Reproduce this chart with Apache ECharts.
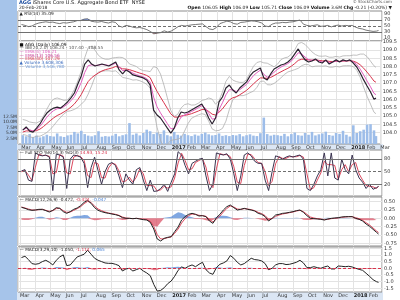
<!DOCTYPE html>
<html><head><meta charset="utf-8">
<script src="https://cdn.jsdelivr.net/npm/echarts@6/dist/echarts.min.js"></script>
<style>html,body{margin:0;padding:0;background:#fff}#c{width:400px;height:300px}</style>
</head><body><div id="c"></div>
<script>
// weekly samples (Fridays from 2016-03-04) plus the final session 2018-02-20
const close = [
104.16,104.35,104.10,104.04, 104.28,104.53,104.89,105.19,105.37, 105.49,105.55,105.49,105.67, 105.86,106.10,106.40,106.94,
107.43,108.15,108.40,108.15,108.03, 108.09,108.15,108.09,108.03, 108.15,108.27,107.79,107.55,107.79, 107.67,107.49,107.43,107.37,
107.31,107.19,106.88,105.37, 105.07,104.89,104.59,104.28,103.98,
104.28,104.89,105.25,105.19, 105.25,105.37,105.49,105.61, 105.74,105.37,104.89,104.53,104.89, 105.86,106.16,106.70,106.88,
106.58,106.40,106.70,106.88, 107.07,107.43,107.67,107.79,107.91, 107.31,107.19,107.55,107.85, 107.97,108.09,108.15,108.27,
108.46,108.76,109.06,108.70,108.40, 108.27,108.33,108.46,108.27, 108.21,108.40,108.15,108.27, 108.40,108.27,108.40,108.33,108.40,
108.21,107.97,107.61,107.19, 106.82,106.46,106.02, 106.09];
const ema13 = [
104.18,104.27,104.18,104.10, 104.20,104.38,104.65,104.94,105.17, 105.34,105.45,105.47,105.58, 105.73,105.93,106.18,106.59,
107.04,107.64,108.05,108.10,108.06, 108.08,108.12,108.10,108.06, 108.11,108.20,107.98,107.75,107.77, 107.72,107.60,107.51,107.44,
107.37,107.27,107.06,106.15, 105.57,105.20,104.87,104.55,104.24,
104.26,104.60,104.95,105.08, 105.17,105.28,105.39,105.51, 105.64,105.49,105.17,104.82,104.86, 105.40,105.81,106.29,106.60,
106.59,106.49,106.60,106.75, 106.92,107.19,107.45,107.63,107.78, 107.53,107.35,107.45,107.66, 107.83,107.97,108.07,108.18,
108.33,108.56,108.83,108.76,108.57, 108.41,108.37,108.42,108.34, 108.27,108.34,108.24,108.26, 108.33,108.30,108.35,108.34,108.37,
108.29,108.12,107.84,107.49, 107.12,106.77,106.38, 106.30];
const ema40 = [
104.04,104.11,104.11,104.09, 104.13,104.22,104.37,104.55,104.73, 104.90,105.04,105.14,105.26, 105.39,105.55,105.74,106.00,
106.31,106.72,107.09,107.32,107.48, 107.61,107.73,107.81,107.86, 107.92,108.00,107.95,107.86,107.85, 107.81,107.74,107.67,107.60,
107.54,107.46,107.33,106.90, 106.50,106.15,105.81,105.47,105.14,
104.95,104.94,105.01,105.05, 105.09,105.15,105.23,105.31, 105.40,105.40,105.29,105.12,105.07, 105.24,105.44,105.72,105.98,
106.11,106.17,106.29,106.42, 106.56,106.75,106.95,107.14,107.31, 107.31,107.28,107.34,107.45, 107.57,107.68,107.79,107.89,
108.02,108.18,108.37,108.44,108.44, 108.40,108.38,108.40,108.37, 108.34,108.35,108.31,108.30, 108.32,108.31,108.33,108.33,108.35,
108.32,108.24,108.10,107.90, 107.66,107.40,107.12, 107.05];
const bbUpper = [
104.80,104.75,104.65,104.61, 104.59,104.69,104.99,105.42,105.80, 106.04,106.10,106.03,105.95, 105.99,106.23,106.61,107.13,
107.72,108.53,109.13,109.23,108.98, 108.67,108.51,108.44,108.44, 108.51,108.54,108.56,108.54,108.40, 108.15,108.08,108.00,107.84,
107.75,107.73,107.69,107.99, 107.93,107.55,106.88,106.11,105.34,
104.98,105.11,105.50,105.70, 105.75,105.67,105.68,105.78, 105.95,106.00,106.10,106.03,105.72, 105.94,106.46,107.10,107.40,
107.18,107.09,107.04,107.04, 107.21,107.62,108.01,108.24,108.30, 108.22,108.20,108.09,107.98, 108.14,108.42,108.52,108.57,
108.74,109.01,109.39,109.45,109.33, 109.11,108.88,108.72,108.63, 108.62,108.64,108.56,108.56, 108.61,108.57,108.64,108.65,108.65,
108.69,108.68,108.75,108.75, 108.60,108.32,108.04, 107.95];
const bbLower = [
103.90,103.85,103.75,103.71, 103.79,103.79,103.89,104.02,104.20, 104.44,104.70,104.93,105.15, 105.29,105.33,105.41,105.53,
105.72,105.93,106.33,106.83,107.38, 107.67,107.71,107.74,107.74, 107.71,107.74,107.56,107.34,107.30, 107.25,107.18,107.20,107.14,
107.05,106.93,106.69,105.39, 104.33,103.55,103.08,103.31,103.54,
103.58,103.61,103.70,104.10, 104.55,104.87,104.98,105.08, 105.15,105.10,104.70,104.23,104.12, 104.14,104.26,104.70,105.40,
105.98,106.19,106.24,106.24, 106.31,106.42,106.51,106.74,107.10, 107.12,106.90,106.89,106.98, 107.14,107.32,107.52,107.67,
107.74,107.81,107.89,108.05,108.13, 108.11,107.98,108.02,108.03, 108.02,108.04,107.96,107.96, 108.01,107.97,108.04,108.05,108.05,
107.99,107.78,107.35,106.75, 106.20,105.72,105.24, 105.15];
const volume = [
4.0,3.5,4.5,3.2, 3.8,3.0,3.5,4.2,3.6, 3.4,4.8,3.5,3.2, 3.9,4.2,5.5,4.8, 6.0,4.5,3.8,3.5,4.0, 5.8,3.3,3.6,3.4,
3.8,4.6,3.5,4.0,4.4, 9.5,4.2,4.8,3.9, 5.0,6.5,5.8,4.5, 5.2,4.6,6.2,4.0,3.5,
5.5,4.2,3.8,4.6, 4.0,3.6,4.3,3.8, 4.6,5.2,4.4,3.9,4.1, 4.8,3.7,4.0,3.6, 4.1,3.9,4.5,3.5, 4.0,4.4,3.8,3.6,4.9,
12.0,4.5,3.8,4.2, 4.0,3.7,4.6,3.5, 4.5,5.2,4.0,3.8,5.0, 4.2,5.5,3.9,4.4, 4.8,5.6,4.1,3.8, 5.0,4.6,6.0,4.2,3.4,
8.5,5.0,5.8,6.5, 8.8,9.0,6.2, 3.6];
const rsi = [
55,52,48,50, 56,60,62,64,62, 63,60,58,61, 60,62,64,68, 68,73,74,66,64, 63,65,62,60, 64,62,50,46,52, 50,46,44,45,
42,38,32,24, 26,28,34,30,33,
40,48,52,50, 52,54,55,56, 57,48,40,38,45, 58,62,66,64, 58,56,62,63, 65,67,66,64,60, 50,48,56,60, 60,62,61,63,
64,67,70,56,52, 50,52,54,49, 50,52,47,51, 53,50,52,51,52, 46,42,40,36, 34,32,33, 35.09];
const stoK = [
52,55,30,27, 95,90,88,90,85, 5,92,90,85, 10,80,90,88, 85,70,12,60,85, 53,20,50,68, 72,65,40,12,45, 30,20,55,60,
30,5,30,3, 4,10,20,3,25,
45,98,90,65, 45,70,75,80, 82,40,5,20,95, 92,90,93,80, 45,5,40,90, 95,88,75,70,70, 30,5,50,88, 85,80,85,88,
85,88,90,80,10, 5,20,40,55, 95,40,95,35, 30,80,55,45,90, 55,35,25,10, 20,8,12, 14.93];
const stoD = [
50,53,42,29, 61,92,89,89,87, 45,48,91,87, 47,45,85,89, 86,77,41,36,72, 69,36,35,59, 70,68,52,26,28, 37,25,37,57,
45,17,17,16, 4,7,15,11,14,
35,71,94,77, 55,57,72,77, 81,61,22,12,57, 93,91,91,86, 62,25,22,65, 92,91,81,72,70, 50,17,27,69, 86,82,82,86,
86,86,89,85,45, 7,12,30,47, 75,67,67,65, 32,55,67,50,67, 72,45,30,17, 15,14,10, 15.24];
const macd = [
0.33,0.30,0.26,0.24, 0.25,0.27,0.27,0.23,0.19, 0.24,0.32,0.30,0.20, 0.15,0.20,0.27,0.31, 0.38,0.48,0.54,0.45,0.32,
0.24,0.20,0.17,0.15, 0.13,0.11,0.08,0.02,0.00, 0.00,-0.01,0.00,-0.02, -0.04,-0.05,-0.12,-0.32, -0.62,-0.68,-0.60,-0.57,-0.55,
-0.40,-0.26,-0.05,0.05, 0.12,0.15,0.12,0.07, 0.08,0.05,-0.08,-0.15,0.02, 0.12,0.25,0.35,0.40, 0.32,0.25,0.27,0.30,
0.27,0.25,0.22,0.15,0.12, 0.05,-0.08,0.00,0.10, 0.12,0.15,0.16,0.18, 0.20,0.23,0.25,0.18,0.08, 0.00,-0.01,-0.02,-0.03,
-0.05,-0.02,0.00,0.01, 0.02,0.04,0.05,0.05,0.05, 0.00,-0.03,-0.08,-0.17, -0.24,-0.33,-0.42, -0.472];
const macdSignal = [
0.34,0.31,0.28,0.25, 0.25,0.26,0.27,0.24,0.21, 0.23,0.29,0.30,0.23, 0.18,0.19,0.24,0.29, 0.35,0.44,0.51,0.47,0.37,
0.28,0.23,0.19,0.16, 0.14,0.12,0.09,0.04,0.01, 0.00,-0.01,0.00,-0.01, -0.03,-0.04,-0.09,-0.24, -0.49,-0.62,-0.61,-0.58,-0.56,
-0.45,-0.32,-0.14,-0.01, 0.08,0.13,0.12,0.09, 0.08,0.06,-0.03,-0.11,-0.02, 0.07,0.19,0.30,0.37, 0.34,0.28,0.27,0.29,
0.28,0.26,0.23,0.18,0.14, 0.08,-0.03,-0.01,0.06, 0.10,0.13,0.15,0.17, 0.19,0.22,0.24,0.20,0.12, 0.04,0.01,-0.01,-0.02,
-0.04,-0.03,-0.01,0.00, 0.01,0.03,0.04,0.05,0.05, 0.02,-0.01,-0.06,-0.13, -0.20,-0.29,-0.38, -0.424];
const macdHist = [
-0.04,-0.05,-0.05,-0.03, 0.02,0.05,0.05,0.01,-0.04, -0.03,0.03,0.02,-0.05, -0.05,0.02,0.06,0.08, 0.08,0.10,0.09,-0.03,-0.06,
-0.05,-0.03,-0.02,-0.02, -0.01,0.00,-0.03,-0.05,-0.04, -0.01,0.00,0.01,0.00, -0.02,-0.04,-0.12,-0.22, -0.25,-0.12,0.02,0.03,0.05,
0.12,0.18,0.16,0.10, 0.06,0.03,-0.02,-0.02, -0.03,-0.06,-0.08,-0.05,0.04, 0.08,0.08,0.07,0.03, -0.04,-0.05,-0.02,0.02,
0.02,0.01,0.00,-0.02,-0.04, -0.07,-0.06,0.01,0.02, 0.01,0.01,0.01,0.01, 0.01,0.02,0.01,-0.04,-0.05, -0.05,-0.03,-0.02,0.00,
0.01,0.02,0.01,0.02, 0.02,0.01,0.02,0.01,0.00, -0.03,-0.04,-0.05,-0.06, -0.06,-0.06,-0.05, -0.047];
const osc2 = [
0.80,0.90,0.65,0.35, 0.30,0.35,0.50,0.60,0.45, 0.25,0.60,0.85,1.00, 0.20,0.25,0.55,0.85, 0.95,1.05,1.35,1.05,0.75,
0.60,0.50,0.40,0.37, 0.37,0.30,0.20,-0.20,-0.05, 0.00,-0.20,-0.10,0.00, -0.20,-0.35,-0.55,-1.20, -1.70,-1.65,-1.45,-1.15,-0.95,
-0.60,-0.15,0.10,0.00, 0.15,0.25,0.12,0.30, 0.45,-0.10,-0.35,-0.45,0.05, 0.30,0.40,0.55,0.95, 0.75,0.45,0.25,0.35,
0.55,0.75,0.65,0.62,0.55, 0.35,-0.10,0.00,0.25, 0.35,0.35,0.28,0.30, 0.37,0.45,0.60,0.40,0.05, 0.05,0.12,0.05,0.00,
0.10,0.17,-0.05,-0.05, 0.17,0.15,0.12,0.15,0.10, 0.00,-0.08,-0.15,-0.37, -0.60,-0.85,-1.00, -1.05];
const osc2Hist = [
-0.05,0.05,-0.10,-0.12, -0.05,0.03,0.06,0.05,-0.05, -0.08,0.10,0.08,0.06, -0.15,-0.05,0.08,0.10, 0.05,0.05,0.10,-0.08,-0.10,
-0.06,-0.04,-0.03,-0.02, 0.00,-0.02,-0.04,-0.12,0.03, 0.02,-0.06,0.02,0.03, -0.06,-0.05,-0.08,-0.15, -0.12,0.02,0.05,0.08,0.06,
0.10,0.12,0.08,-0.02, 0.03,0.03,-0.03,0.04, 0.04,-0.10,-0.08,-0.03,0.10, 0.06,0.03,0.04,0.08, -0.04,-0.06,-0.05,0.02,
0.04,0.04,-0.01,-0.01,-0.02, -0.05,-0.10,0.02,0.05, 0.03,0.00,-0.01,0.00, 0.02,0.03,0.04,-0.04,-0.08, -0.02,0.02,-0.02,-0.02,
0.02,0.03,-0.04,-0.02, 0.04,0.01,0.00,0.01,-0.01, -0.03,-0.03,-0.03,-0.06, -0.06,-0.06,-0.05, 0.065];

const priceTicks = [104,104.5,105,105.5,106,106.5,107,107.5,108,108.5,109,109.5];
const volTicks = [2.5,5,7.5,10,12.5];
const rsiTicks = [10,30,50,70,90];
const stoTicks = [20,50,80];
const macdTicks = [-0.75,-0.5,-0.25,0,0.25,0.5];
const oscTicks = [-1.5,-1,-0.5,0,0.5,1,1.5];
const monthNames = ['Jan','Feb','Mar','Apr','May','Jun','Jul','Aug','Sep','Oct','Nov','Dec'];

const dates = [];
for (let i = 0; i < close.length - 1; i++) dates.push(new Date(2016, 2, 4 + 7 * i).getTime());
dates.push(new Date(2018, 1, 20).getTime());
const P = arr => arr.map((v, i) => [dates[i], v]);

const FONT = 'DejaVu Sans';
const xMin = new Date(2016, 1, 26).getTime();
const xMax = new Date(2018, 1, 27).getTime();
const grids = [
  {top: 11, height: 30}, {top: 41, height: 103}, {top: 150, height: 46}, {top: 197, height: 49}, {top: 247, height: 45}
].map(g => Object.assign({left: 18, right: 18, show: true, borderColor: '#8c8c8c', borderWidth: 1, backgroundColor: '#fff'}, g));

function xAx(i, labels) {
  return {type: 'time', gridIndex: i, min: xMin, max: xMax, splitNumber: 24,
    axisLine: {show: false}, axisTick: {show: false},
    splitLine: {show: true, lineStyle: {color: '#e3e3e3', width: 1}},
    axisLabel: {show: labels, fontSize: 5, fontFamily: FONT, color: '#333', margin: 1.5, align: 'left',
      showMinLabel: false, showMaxLabel: false,
      formatter: v => { const d = new Date(v); return d.getMonth() === 0 ? '{y|' + d.getFullYear() + '}' : monthNames[d.getMonth()]; },
      rich: {y: {fontSize: 5, fontWeight: 'bold', fontFamily: FONT, color: '#222'}}}};
}
function yAx(i, min, max, ticks, fmt, split) {
  return {type: 'value', gridIndex: i, min, max, position: 'right', scale: true,
    axisLine: {show: false}, axisTick: {show: false, customValues: ticks},
    splitLine: {show: split, lineStyle: {color: '#e3e3e3', width: 1}},
    axisLabel: {customValues: ticks, fontSize: 5, fontFamily: FONT, color: '#333', margin: 2, formatter: fmt}};
}
const line = (name, x, y, data, color, width, z, extra) => Object.assign({
  name, type: 'line', xAxisIndex: x, yAxisIndex: y, data: P(data), symbol: 'none', silent: true,
  lineStyle: {color, width}, z: z || 3}, extra || {});
const hLines = (vals, dashed) => ({silent: true, symbol: 'none', label: {show: false},
  data: vals.map(v => ({yAxis: v, lineStyle: {color: '#6f6f6f', width: 1, type: dashed.includes(v) ? [3, 2] : 'solid'}}))});

const option = {
  animation: false,
  backgroundColor: '#ffffff',
  textStyle: {fontFamily: FONT},
  grid: grids,
  xAxis: [xAx(0, false), xAx(1, true), xAx(2, false), xAx(3, false), xAx(4, true)],
  yAxis: [
    yAx(0, 0, 100, rsiTicks, v => String(v), false),
    yAx(1, 103.32, 109.54, priceTicks, v => v.toFixed(1), true),
    {type: 'value', gridIndex: 1, min: 0, max: 46.8, position: 'left', axisLine: {show: false}, axisTick: {show: false, customValues: volTicks},
      splitLine: {show: false}, axisLabel: {customValues: volTicks, fontSize: 4.5, fontFamily: FONT, color: '#333', margin: 1, formatter: v => v.toFixed(1) + 'M'}},
    yAx(2, -8, 102, stoTicks, v => String(v), false),
    yAx(3, -0.83, 0.64, macdTicks, v => v.toFixed(2), true),
    yAx(4, -1.77, 1.59, oscTicks, v => v.toFixed(1), true)
  ],
  series: [
    // RSI
    line('rsiHi', 0, 0, rsi.map(v => Math.max(v, 70)), 'rgba(0,0,0,0)', 0, 2, {areaStyle: {origin: 70, color: '#4f73d6'}}),
    line('rsiLo', 0, 0, rsi.map(v => Math.min(v, 30)), 'rgba(0,0,0,0)', 0, 2, {areaStyle: {origin: 30, color: '#d8485c'}}),
    line('RSI', 0, 0, rsi, '#555', 0.8, 4, {markLine: hLines([70, 50, 30], [50])}),
    // Volume
    {name: 'Volume', type: 'bar', xAxisIndex: 1, yAxisIndex: 2, data: P(volume), barWidth: 2.6, silent: true,
      itemStyle: {color: '#9dbde9'}, z: 1},
    line('BBU', 1, 1, bbUpper, '#b0b0b0', 0.8, 2),
    line('BBL', 1, 1, bbLower, '#b0b0b0', 0.8, 2),
    line('EMA40', 1, 1, ema40, '#d8344c', 1, 3),
    line('EMA13', 1, 1, ema13, '#e35fc0', 1, 3),
    line('AGG', 1, 1, close, '#2b2230', 1.2, 4),
    // STO
    line('%D', 2, 3, stoD, '#d8344c', 0.9, 3, {markLine: hLines([80, 50, 20], [50])}),
    line('%K', 2, 3, stoK, '#3a3350', 1, 4),
    // MACD
    line('hp', 3, 4, macdHist.map(v => Math.max(v, 0)), 'rgba(0,0,0,0)', 0, 2, {areaStyle: {color: '#4a82d4'}}),
    line('hn', 3, 4, macdHist.map(v => Math.min(v, 0)), 'rgba(0,0,0,0)', 0, 2, {areaStyle: {color: '#d9485e'}}),
    line('sig', 3, 4, macdSignal, '#d8344c', 0.9, 3),
    line('MACD', 3, 4, macd, '#222', 1, 4),
    // bottom oscillator
    line('hp2', 4, 5, osc2Hist.map(v => Math.max(v, 0)), 'rgba(0,0,0,0)', 0, 2, {areaStyle: {color: '#4a82d4'}}),
    line('hn2', 4, 5, osc2Hist.map(v => Math.min(v, 0)), 'rgba(0,0,0,0)', 0, 2, {areaStyle: {color: '#d9485e'}}),
    line('osc', 4, 5, osc2, '#222', 1, 4, {markLine: {silent: true, symbol: 'none', label: {show: false},
      data: [{yAxis: 0, lineStyle: {color: '#d8344c', width: 1, type: [3, 2]}}]}})
  ],
  graphic: [
    {type: 'rect', z: -10, shape: {x: 0, y: 0, width: 17, height: 300}, style: {fill: '#a6c4ea'}},
    {type: 'rect', z: -10, shape: {x: 17, y: 144, width: 366, height: 6}, style: {fill: '#dbe6f4'}},
    {type: 'rect', z: -10, shape: {x: 17, y: 292, width: 366, height: 8}, style: {fill: '#dbe6f4'}},
    {type: 'text', left: 19, top: 0.5, z: 100, style: {text: '{b|AGG} iShares Core U.S. Aggregate Bond ETF  NYSE', fontSize: 5, fontFamily: FONT, fill: '#111',
      rich: {b: {fontSize: 5, fontWeight: 'bold', fill: '#1f4fa0', fontFamily: FONT}}}},
    {type: 'text', left: 19, top: 5.5, z: 100, style: {text: '20-Feb-2018', fontSize: 4.5, fontFamily: FONT, fill: '#222'}},
    {type: 'text', right: 8, top: 0, z: 100, style: {text: '© StockCharts.com', fontSize: 4, fontFamily: FONT, fill: '#555'}},
    {type: 'text', right: 8, top: 5, z: 100, style: {text: '{b|Open} 106.05 {b|High} 106.09 {b|Low} 105.71 {b|Close} 106.09 {b|Volume} 3.6M {b|Chg} -0.21 (-0.20%) ▼', fontSize: 4.5, fontFamily: FONT, fill: '#222',
      rich: {b: {fontSize: 4.5, fontWeight: 'bold', fontFamily: FONT, fill: '#111'}}}},
    {type: 'text', left: 19.5, top: 11.5, z: 100, style: {text: '▲ RSI(14) 35.09', fontSize: 4.3, fontFamily: FONT, fill: '#222'}},
    {type: 'text', left: 19.5, top: 42.5, z: 100, style: {text: '■ AGG (Daily) 106.09', fontSize: 4.3, fontFamily: FONT, fill: '#111'}},
    {type: 'text', left: 19.5, top: 46.2, z: 100, style: {text: '— BB(20,2.0) 106.24 - 107.40 - 108.55', fontSize: 4.3, fontFamily: FONT, fill: '#555'}},
    {type: 'text', left: 19.5, top: 49.9, z: 100, style: {text: '— EMA(5) 106.21', fontSize: 4.3, fontFamily: FONT, fill: '#e35fc0'}},
    {type: 'text', left: 19.5, top: 53.6, z: 100, style: {text: '— EMA(13) 106.56', fontSize: 4.3, fontFamily: FONT, fill: '#c0308e'}},
    {type: 'text', left: 19.5, top: 57.3, z: 100, style: {text: '— EMA(40) 107.29', fontSize: 4.3, fontFamily: FONT, fill: '#d8344c'}},
    {type: 'text', left: 19.5, top: 61, z: 100, style: {text: '▲ Volume 3,608,306', fontSize: 4.3, fontFamily: FONT, fill: '#3f6fc0'}},
    {type: 'text', left: 19.5, top: 64.7, z: 100, style: {text: '— Volume 3,546,780', fontSize: 4.3, fontFamily: FONT, fill: '#6f9ad8'}},
    {type: 'text', left: 19.5, top: 150.5, z: 100, style: {text: '— Full STO %K(14,3) %D(3) {r|14.93, 15.24}', fontSize: 4.3, fontFamily: FONT, fill: '#222',
      rich: {r: {fontSize: 4.3, fontFamily: FONT, fill: '#d8344c'}}}},
    {type: 'text', left: 19.5, top: 197.5, z: 100, style: {text: '— MACD(12,26,9) -0.472, {r|-0.424,} {b|-0.047}', fontSize: 4.3, fontFamily: FONT, fill: '#222',
      rich: {r: {fontSize: 4.3, fontFamily: FONT, fill: '#d8344c'}, b: {fontSize: 4.3, fontFamily: FONT, fill: '#4a82d4'}}}},
    {type: 'text', left: 19.5, top: 247.5, z: 100, style: {text: '— MACD(3,29,10) -1.050, {r|-1.114,} {b|0.065}', fontSize: 4.3, fontFamily: FONT, fill: '#222',
      rich: {r: {fontSize: 4.3, fontFamily: FONT, fill: '#d8344c'}, b: {fontSize: 4.3, fontFamily: FONT, fill: '#4a82d4'}}}}
  ]
};
const chart = echarts.init(document.getElementById('c'), null, {renderer: 'canvas'});
chart.setOption(option);
</script></body></html>
